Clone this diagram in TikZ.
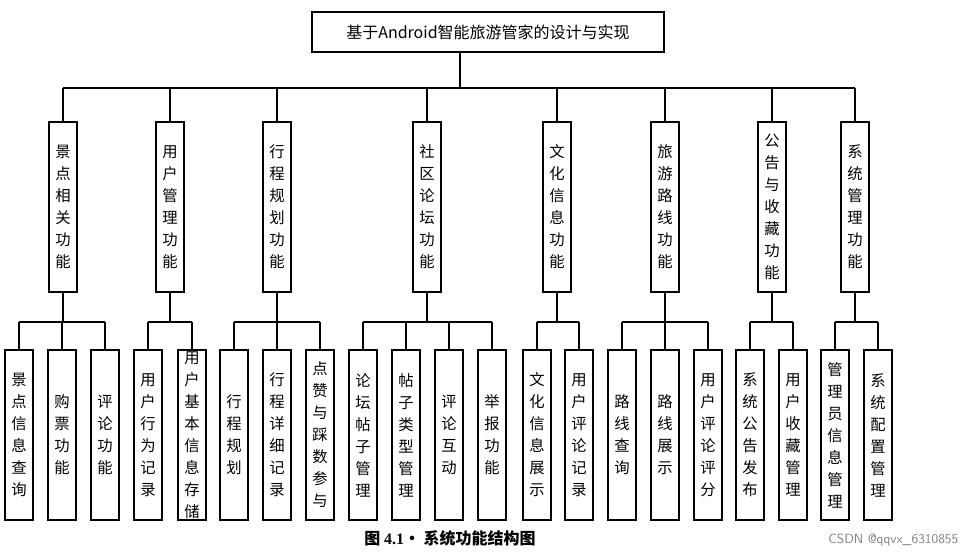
\documentclass[tikz,border=0pt]{standalone}
\usepackage{fontspec}
\setmainfont{Liberation Serif}
\newfontfamily\cjk{Noto Sans CJK SC}
\newfontfamily\cjkserif{Noto Sans CJK SC}
\begin{document}
\begin{tikzpicture}[x=0.75pt,y=-0.75pt,
  box/.style={draw,line width=0.9pt,inner sep=0pt,minimum width=21pt,minimum height=127.5pt,align=center,font=\cjk\fontsize{11.5}{16.5}\selectfont},
  lv2/.style={box},
  ln/.style={line width=0.9pt}]
\useasboundingbox (0,0) rectangle (965,556);
\node[draw,line width=0.9pt,minimum width=264pt,minimum height=30pt,font=\cjk\fontsize{12}{14}\selectfont] (root) at (488,32) {基于Android智能旅游管家的设计与实现};
\coordinate (rb) at (460,88);
\draw[ln] (460,52) -- (rb);
\draw[ln] (63,88) -- (855,88);
\def\mk#1#2#3{\node[lv2] (#1) at (#2,207) {#3};
  \draw[ln] (#2,88) -- (#1.north);
  \coordinate (#1b) at (#2,322); \draw[ln] (#1.south) -- (#1b);}
\mk{a}{63}{景\\点\\相\\关\\功\\能}
\mk{b}{170}{用\\户\\管\\理\\功\\能}
\mk{c}{277}{行\\程\\规\\划\\功\\能}
\mk{d}{427}{社\\区\\论\\坛\\功\\能}
\mk{e}{557}{文\\化\\信\\息\\功\\能}
\mk{f}{665}{旅\\游\\路\\线\\功\\能}
\mk{g}{772}{公\\告\\与\\收\\藏\\功\\能}
\mk{h}{855}{系\\统\\管\\理\\功\\能}
\def\lf#1#2#3{\node[box] (#1) at (#2,435) {#3}; \draw[ln] (#2,322) -- (#1.north);}
\draw[ln] (19,322) -- (105,322);
\lf{a1}{19}{景\\点\\信\\息\\查\\询}\lf{a2}{62}{购\\票\\功\\能}\lf{a3}{105}{评\\论\\功\\能}
\draw[ln] (148,322) -- (192,322);
\lf{b1}{148}{用\\户\\行\\为\\记\\录}\lf{b2}{192}{用\\户\\基\\本\\信\\息\\存\\储}
\draw[ln] (234,322) -- (320,322);
\lf{c1}{234}{行\\程\\规\\划}\lf{c2}{277}{行\\程\\详\\细\\记\\录}\lf{c3}{320}{点\\赞\\与\\踩\\数\\参\\与}
\draw[ln] (363,322) -- (492,322);
\lf{d1}{363}{论\\坛\\帖\\子\\管\\理}\lf{d2}{406}{帖\\子\\类\\型\\管\\理}\lf{d3}{449}{评\\论\\互\\动}\lf{d4}{492}{举\\报\\功\\能}
\draw[ln] (537,322) -- (579,322);
\lf{e1}{537}{文\\化\\信\\息\\展\\示}\lf{e2}{579}{用\\户\\评\\论\\记\\录}
\draw[ln] (622,322) -- (708,322);
\lf{f1}{622}{路\\线\\查\\询}\lf{f2}{665}{路\\线\\展\\示}\lf{f3}{708}{用\\户\\评\\论\\评\\分}
\draw[ln] (750,322) -- (793,322);
\lf{g1}{750}{系\\统\\公\\告\\发\\布}\lf{g2}{793}{用\\户\\收\\藏\\管\\理}
\draw[ln] (835,322) -- (878,322);
\lf{h1}{835}{管\\理\\员\\信\\息\\管\\理}\lf{h2}{878}{系\\统\\配\\置\\管\\理}
\node[font=\cjk\bfseries\fontsize{12}{14}\selectfont] (cap) at (450,538) {图 \textrm{\textbf{4.1}}· 系统功能结构图};
\node[font=\sffamily\fontsize{10}{12}\selectfont,text=gray,anchor=east] (wm) at (963,540) {CSDN @qqvx\_6310855};
\end{tikzpicture}
\end{document}
